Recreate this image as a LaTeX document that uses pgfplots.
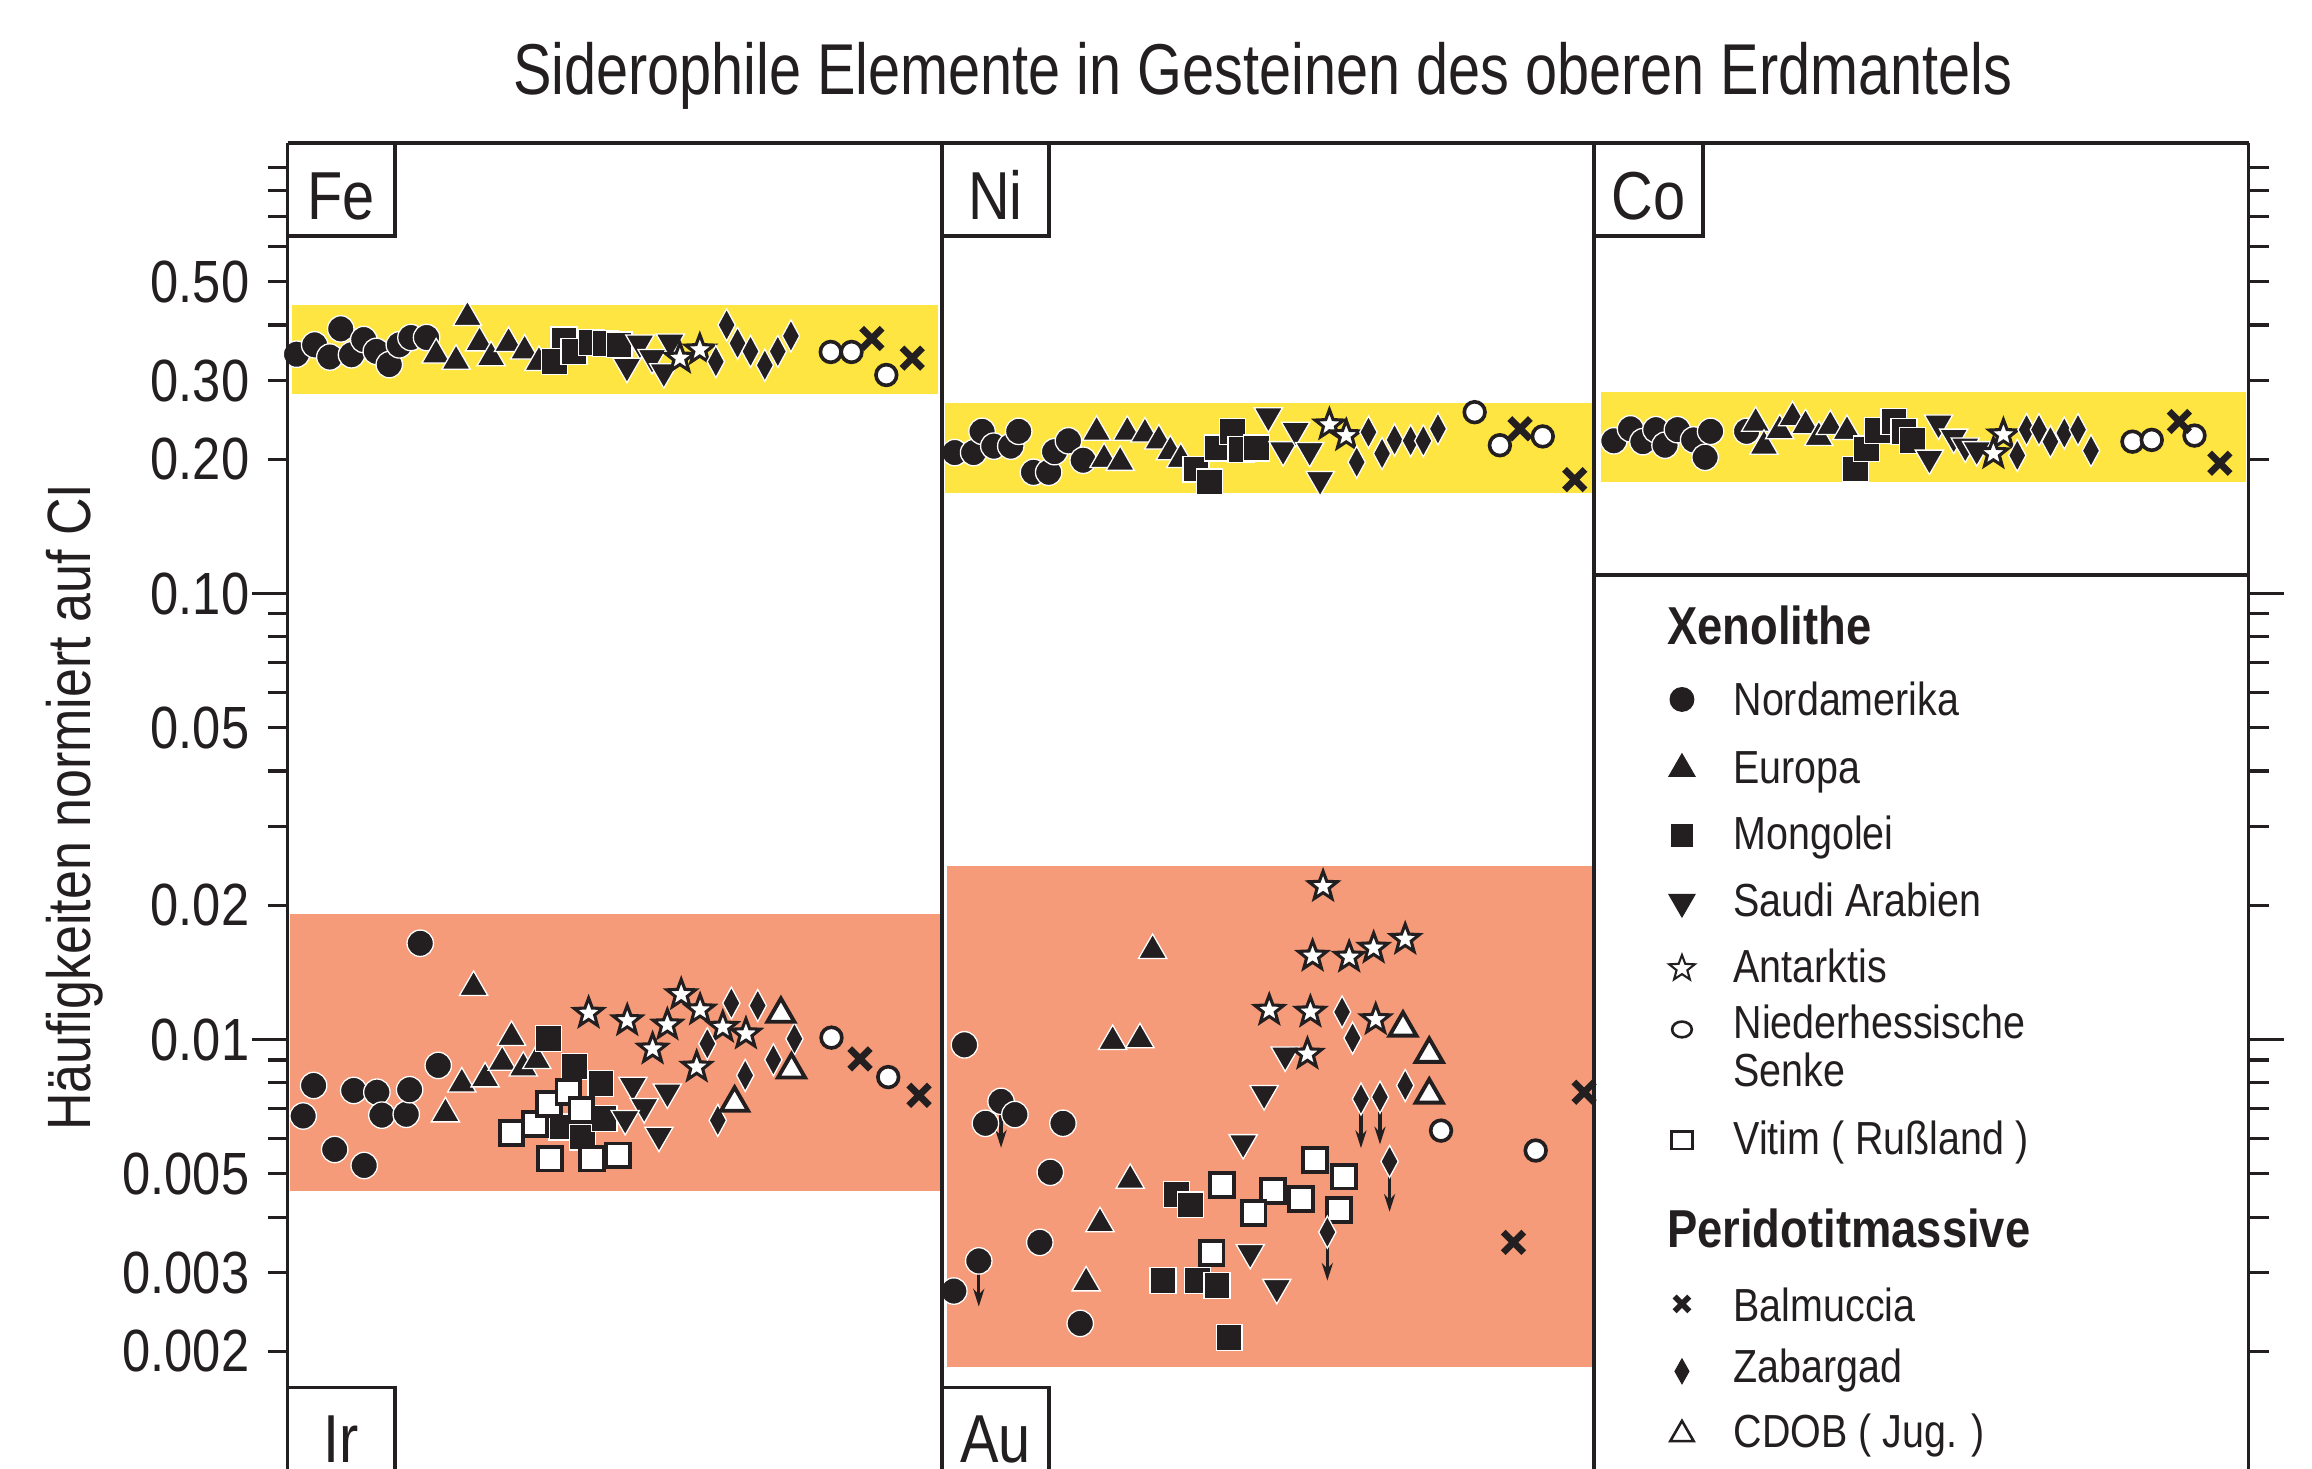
\documentclass[border=0pt]{standalone}
\usepackage{fontspec}
\setmainfont{Liberation Sans}[FakeStretch=0.85]
\newfontfamily\titlefont{Liberation Sans}[FakeStretch=0.80]
\usepackage{pgfplots}
\pgfplotsset{compat=1.18}
\usepackage{pgfplotstable}
\usetikzlibrary{arrows.meta}

\definecolor{bandY}{RGB}{255,229,66}
\definecolor{bandS}{RGB}{245,155,122}
\definecolor{mk}{RGB}{35,31,32}

\pgfdeclareplotmark{fstar}{%
  \pgfpathmoveto{\pgfpointpolar{90}{\pgfplotmarksize}}%
  \pgfpathlineto{\pgfpointpolar{126}{0.42\pgfplotmarksize}}%
  \pgfpathlineto{\pgfpointpolar{162}{\pgfplotmarksize}}%
  \pgfpathlineto{\pgfpointpolar{198}{0.42\pgfplotmarksize}}%
  \pgfpathlineto{\pgfpointpolar{234}{\pgfplotmarksize}}%
  \pgfpathlineto{\pgfpointpolar{270}{0.42\pgfplotmarksize}}%
  \pgfpathlineto{\pgfpointpolar{306}{\pgfplotmarksize}}%
  \pgfpathlineto{\pgfpointpolar{342}{0.42\pgfplotmarksize}}%
  \pgfpathlineto{\pgfpointpolar{18}{\pgfplotmarksize}}%
  \pgfpathlineto{\pgfpointpolar{54}{0.42\pgfplotmarksize}}%
  \pgfpathclose
  \pgfusepathqfillstroke
}

\pgfplotsset{
  sNord/.style={only marks, mark=*, mark size=2.55pt, mark options={fill=mk, draw=white, line width=0.25pt}},
  sEur/.style={only marks, mark=triangle*, mark size=3.15pt, mark options={fill=mk, draw=white, line width=0.25pt}},
  sMon/.style={only marks, mark=square*, mark size=2.5pt, mark options={fill=mk, draw=white, line width=0.25pt}},
  sSau/.style={only marks, mark=triangle*, mark size=3.15pt, mark options={rotate=180, fill=mk, draw=white, line width=0.25pt}},
  sAnt/.style={only marks, mark=fstar, mark size=2.9pt, mark options={fill=white, draw=mk, line width=0.6pt}},
  sNhs/.style={only marks, mark=*, mark size=2.0pt, mark options={fill=white, draw=mk, line width=0.7pt}},
  sVit/.style={only marks, mark=square*, mark size=2.3pt, mark options={fill=white, draw=mk, line width=0.75pt}},
  sBal/.style={only marks, mark=x, mark size=2.8pt, mark options={draw=mk, line width=1.3pt}},
  sZab/.style={only marks, mark=diamond*, mark size=3.1pt, mark options={xscale=0.72, fill=mk, draw=white, line width=0.25pt}},
  sCdo/.style={only marks, mark=triangle*, mark size=3.0pt, mark options={fill=white, draw=mk, line width=0.75pt}},
}

% x = position along the panel row, y = abundance normalised to CI
\pgfplotstableread{
x y
201.1 0.344
213.4 0.361
223.7 0.339
231.1 0.392
238.4 0.343
246.7 0.371
255.2 0.349
264.0 0.326
270.8 0.361
278.7 0.375
289.3 0.375
647.5 0.207
660.3 0.207
666.0 0.231
674.0 0.214
685.5 0.214
690.9 0.231
700.9 0.187
711.2 0.187
715.2 0.208
724.6 0.220
734.6 0.199
1094.5 0.220
1105.8 0.234
1114.2 0.219
1123.0 0.233
1129.2 0.215
1137.6 0.233
1148.6 0.221
1156.4 0.202
1160.1 0.231
1184.5 0.231
285.0 0.01644
205.6 0.00674
212.7 0.00789
227.0 0.00567
239.9 0.00769
247.0 0.00522
255.6 0.00762
259.0 0.00677
275.5 0.00680
277.8 0.00772
297.2 0.00875
654.1 0.00973
678.9 0.00727
688.3 0.00679
668.3 0.00649
720.9 0.00649
712.3 0.00504
705.2 0.00351
663.8 0.00319
646.9 0.00273
732.6 0.00231
}\nord

\pgfplotstableread{
x y
317.0 0.416
295.8 0.343
309.3 0.332
325.2 0.365
333.1 0.338
344.9 0.364
355.8 0.350
365.5 0.330
743.7 0.230
748.8 0.200
759.7 0.197
764.5 0.230
776.5 0.228
785.9 0.220
793.7 0.208
800.8 0.200
1190.7 0.241
1196.3 0.214
1207.0 0.232
1215.7 0.248
1224.5 0.238
1233.5 0.224
1241.3 0.237
1252.6 0.231
321.2 0.01310
302.1 0.00682
313.2 0.00796
329.0 0.00817
340.6 0.00890
346.9 0.01012
354.9 0.00864
364.1 0.00898
781.7 0.01585
754.6 0.00991
773.1 0.01000
766.5 0.00484
746.0 0.00387
736.6 0.00285
}\europa

\pgfplotstableread{
x y
382.5 0.370
376.1 0.331
389.3 0.349
401.1 0.366
410.5 0.363
419.9 0.361
811.1 0.190
820.2 0.178
825.9 0.212
835.9 0.231
841.6 0.210
852.2 0.212
1258.5 0.190
1265.7 0.211
1273.5 0.232
1284.4 0.243
1291.3 0.231
1296.9 0.220
371.8 0.01004
389.8 0.00870
407.5 0.00796
381.2 0.00637
394.9 0.00605
409.7 0.00665
798.0 0.00449
807.4 0.00426
788.8 0.00288
812.2 0.00288
825.4 0.00281
833.6 0.00215
}\mongolei

\pgfplotstableread{
x y
434.0 0.364
425.2 0.323
442.2 0.338
450.2 0.314
454.6 0.366
860.2 0.250
870.2 0.210
878.7 0.232
888.2 0.209
895.3 0.180
1314.7 0.241
1325.0 0.224
1308.5 0.201
1332.8 0.214
1340.6 0.210
429.2 0.00789
452.6 0.00762
436.9 0.00707
424.0 0.00665
446.9 0.00610
871.6 0.00923
857.3 0.00756
843.1 0.00587
847.9 0.00333
865.9 0.00278
}\saudi

\pgfplotstableread{
x y
461.1 0.337
474.6 0.352
901.6 0.239
913.0 0.226
1358.7 0.227
1351.9 0.206
399.2 0.01146
425.4 0.01103
452.6 0.01079
442.6 0.00953
462.0 0.01262
474.8 0.01166
490.2 0.01066
505.9 0.01030
472.5 0.00868
897.3 0.02205
890.2 0.01539
915.0 0.01531
931.6 0.01604
953.0 0.01679
860.8 0.01164
888.7 0.01153
933.0 0.01109
886.7 0.00928
}\antarktis

\pgfplotstableread{
x y
563.4 0.348
577.5 0.348
601.1 0.309
1000.1 0.255
1017.2 0.215
1046.3 0.225
1446.2 0.219
1459.3 0.221
1488.3 0.226
563.9 0.01010
602.4 0.00824
977.3 0.00625
1041.5 0.00564
}\nhs

\pgfplotstableread{
x y
346.9 0.00618
362.6 0.00646
372.1 0.00716
385.5 0.00762
394.3 0.00694
373.2 0.00541
401.7 0.00541
419.2 0.00550
828.8 0.00472
863.1 0.00457
850.2 0.00408
882.2 0.00439
891.6 0.00538
911.6 0.00493
908.1 0.00415
821.7 0.00332
}\vitim

\pgfplotstableread{
x y
591.3 0.373
618.7 0.337
1030.9 0.234
1068.0 0.180
1478.0 0.243
1505.5 0.196
583.3 0.00905
623.3 0.00750
1074.3 0.00762
1026.4 0.00351
}\balmuccia

\pgfplotstableread{
x y
492.8 0.400
485.5 0.331
500.2 0.364
509.0 0.349
518.7 0.325
527.5 0.349
536.4 0.378
928.1 0.230
920.1 0.197
937.3 0.206
945.8 0.221
956.7 0.220
965.3 0.220
975.2 0.234
1368.1 0.204
1374.4 0.233
1382.8 0.233
1390.6 0.219
1400.0 0.229
1409.3 0.233
1418.1 0.209
496.0 0.01207
513.9 0.01192
479.7 0.00979
538.8 0.01004
524.5 0.00901
505.4 0.00831
486.8 0.00659
910.2 0.01153
917.3 0.01008
923.0 0.00736
935.9 0.00743
953.0 0.00789
942.4 0.00533
900.2 0.00370
}\zabargad

\pgfplotstableread{
x y
529.6 0.01141
536.8 0.00856
498.2 0.00721
951.5 0.01062
969.3 0.00928
969.3 0.00752
}\cdob

% legend entry with fixed line height: #1 = strut height incl. 0.7mm depth
\newcommand\lx[2]{\rule[-0.7mm]{0pt}{#1}\smash{#2}}
\newcommand\hd[1]{\hspace*{-4.5mm}{\fontsize{10.3}{11}\selectfont\bfseries #1}}

\begin{document}
\begin{tikzpicture}
\begin{axis}[
  at={(19.5mm,-9.7mm)}, anchor=north west,
  scale only axis, width=133mm, height=89.9mm,
  xmin=195, xmax=1525,
  ymode=log, ymin=0.0010914, ymax=1.0231,
  axis line style={draw=none},
  xtick=\empty,
  ytick={0.002,0.003,0.005,0.02,0.05,0.2,0.3,0.5},
  yticklabels={0.002,0.003,0.005,0.02,0.05,0.20,0.30,0.50},
  extra y ticks={0.01,0.1},
  extra y tick labels={0.01,0.10},
  extra y tick style={major tick length=2.4mm, tick label style={xshift=1.05mm}},
  minor ytick={0.004,0.006,0.007,0.008,0.009,0.03,0.04,0.06,0.07,0.08,0.09,0.4,0.6,0.7,0.8,0.9},
  tick align=outside,
  major tick length=1.35mm, minor tick length=1.35mm,
  tick style={line width=0.6pt, mk},
  /pgf/number format/assume math mode=true,
  yticklabel style={font=\fontsize{11.5}{12}\selectfont, text=mk},
  legend image code/.code={\path[draw=none,fill=none] (0mm,0mm) -- (7mm,0mm); \draw[#1] plot coordinates {(3.5mm,0mm)};},
  legend cell align=left,
  legend style={at={(axis description cs:0.6842,0.6547)}, anchor=north west,
    draw=none, fill=none, inner sep=0pt, row sep=1.57mm, column sep=0pt,
    nodes={inner sep=0pt, text=mk},
    font=\fontsize{8.95}{9.4}\selectfont},
]
\fill[bandY] (axis cs:198,0.443) rectangle (axis cs:636,0.2805);
\fill[bandY] (axis cs:641,0.268) rectangle (axis cs:1080,0.1684);
\fill[bandY] (axis cs:1086,0.2827) rectangle (axis cs:1523,0.1777);
\fill[bandS] (axis cs:197,0.0191) rectangle (axis cs:638,0.004566);
\fill[bandS] (axis cs:642,0.02455) rectangle (axis cs:1081,0.001845);

% upper limits (arrows)
\draw[mk, line width=0.6pt, -{Stealth[length=1.2mm,width=0.75mm]}] (axis cs:678.9,0.00727) -- (axis cs:678.9,0.00572);
\draw[mk, line width=0.6pt, -{Stealth[length=1.2mm,width=0.75mm]}] (axis cs:663.8,0.00319) -- (axis cs:663.8,0.00252);
\draw[mk, line width=0.6pt, -{Stealth[length=1.2mm,width=0.75mm]}] (axis cs:923.0,0.00736) -- (axis cs:923.0,0.00571);
\draw[mk, line width=0.6pt, -{Stealth[length=1.2mm,width=0.75mm]}] (axis cs:935.9,0.00743) -- (axis cs:935.9,0.00582);
\draw[mk, line width=0.6pt, -{Stealth[length=1.2mm,width=0.75mm]}] (axis cs:942.4,0.00533) -- (axis cs:942.4,0.00411);
\draw[mk, line width=0.6pt, -{Stealth[length=1.2mm,width=0.75mm]}] (axis cs:900.2,0.00370) -- (axis cs:900.2,0.00288);

\addplot[sNord, forget plot] table {\nord};
\addplot[sEur, forget plot] table {\europa};
\addplot[sMon, forget plot] table {\mongolei};
\addplot[sVit, forget plot] table {\vitim};
\addplot[sSau, forget plot] table {\saudi};
\addplot[sAnt, forget plot] table {\antarktis};
\addplot[sZab, forget plot] table {\zabargad};
\addplot[sCdo, forget plot] table {\cdob};
\addplot[sNhs, forget plot] table {\nhs};
\addplot[sBal, forget plot] table {\balmuccia};

\addlegendimage{empty legend}
\addlegendentry{\lx{3.6mm}{\hd{Xenolithe}}}
\addlegendimage{only marks, mark=*, mark size=2.3pt, mark options={fill=mk, draw=mk, line width=0.2pt}}
\addlegendentry{\lx{3.42mm}{Nordamerika}}
\addlegendimage{only marks, mark=triangle*, mark size=2.9pt, mark options={fill=mk, draw=mk, line width=0.2pt}}
\addlegendentry{\lx{3.19mm}{Europa}}
\addlegendimage{only marks, mark=square*, mark size=2.1pt, mark options={fill=mk, draw=mk, line width=0.2pt}}
\addlegendentry{\lx{3.07mm}{Mongolei}}
\addlegendimage{only marks, mark=triangle*, mark size=2.9pt, mark options={rotate=180, fill=mk, draw=mk, line width=0.2pt}}
\addlegendentry{\lx{3.15mm}{Saudi Arabien}}
\addlegendimage{only marks, mark=fstar, mark size=2.6pt, mark options={fill=white, draw=mk, line width=0.4pt}}
\addlegendentry{\lx{3.07mm}{Antarktis}}
\addlegendimage{only marks, mark=*, mark size=1.9pt, mark options={yscale=0.8, fill=white, draw=mk, line width=0.5pt}}
\addlegendentry{\lx{2.41mm}{Niederhessische}}
\addlegendimage{empty legend}
\addlegendentry{\lx{1.91mm}{Senke}}
\addlegendimage{only marks, mark=square*, mark size=2.0pt, mark options={yscale=0.85, fill=white, draw=mk, line width=0.5pt}}
\addlegendentry{\lx{3.18mm}{Vitim ( Rußland )}}
\addlegendimage{empty legend}
\addlegendentry{\lx{4.9mm}{\hd{Peridotitmassive}}}
\addlegendimage{only marks, mark=x, mark size=2.0pt, mark options={draw=mk, line width=1.1pt}}
\addlegendentry{\lx{3.66mm}{Balmuccia}}
\addlegendimage{only marks, mark=diamond*, mark size=2.4pt, mark options={xscale=0.75, fill=mk, draw=mk, line width=0.2pt}}
\addlegendentry{\lx{2.69mm}{Zabargad}}
\addlegendimage{only marks, mark=triangle*, mark size=2.6pt, mark options={fill=white, draw=mk, line width=0.5pt}}
\addlegendentry{\lx{3.06mm}{CDOB ( Jug. )}}
\end{axis}

\begin{scope}[x=0.1mm, y=-0.1mm, line width=0.7pt, mk]
  % title
  \node[anchor=base, font=\titlefont\fontsize{13.9}{16}\selectfont, text=mk] at (856.5,64) {Siderophile Elemente in Gesteinen des oberen Erdmantels};
  % y label
  \node[rotate=90, anchor=base, font=\fontsize{11.8}{12}\selectfont, text=mk] at (61.5,547.5) {Häufigkeiten normiert auf CI};
  % frame
  \draw (195,97) -- (1525,97);
  \draw (195,97) -- (195,1000);
  \draw (639,97) -- (639,1000);
  \draw (1081,97) -- (1081,1000);
  \draw (1525,97) -- (1525,1000);
  \draw (1081,390) -- (1525,390);
  % element boxes
  \draw (195,160) -- (268,160) -- (268,97);
  \draw (639,160) -- (711.5,160) -- (711.5,97);
  \draw (1081,160) -- (1155,160) -- (1155,97);
  \draw (195,941) -- (268,941) -- (268,1000);
  \draw (639,941) -- (711.5,941) -- (711.5,1000);
  \node[anchor=base, font=\fontsize{13.1}{14}\selectfont, text=mk] at (231.5,149) {Fe};
  \node[anchor=base, font=\fontsize{13.1}{14}\selectfont, text=mk] at (675,149) {Ni};
  \node[anchor=base, font=\fontsize{13.1}{14}\selectfont, text=mk] at (1118,149) {Co};
  \node[anchor=base, font=\fontsize{13.1}{14}\selectfont, text=mk] at (231.5,992) {Ir};
  \node[anchor=base, font=\fontsize{13.1}{14}\selectfont, text=mk] at (675,992) {Au};
\end{scope}
\pgfresetboundingbox
\path[use as bounding box] (0,0) rectangle (156.8mm,-99.6mm);
\end{tikzpicture}
\end{document}
